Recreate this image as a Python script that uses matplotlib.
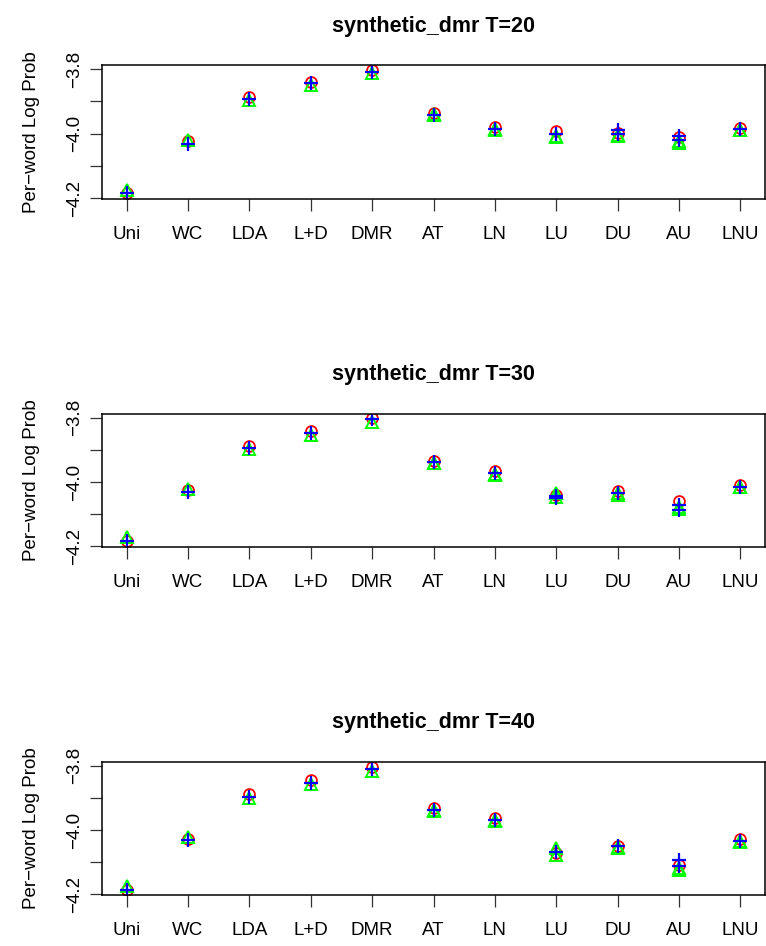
import numpy as np
import matplotlib
matplotlib.use("Agg")
import matplotlib.pyplot as plt

plt.rcParams['font.family'] = ['Liberation Sans', 'DejaVu Sans']

categories = ["Uni", "WC", "LDA", "L+D", "DMR", "AT", "LN", "LU", "DU", "AU", "LNU"]
topics = [20, 30, 40]

# red circles
red_T20 = [-4.183, -4.024, -3.886, -3.839, -3.801, -3.937, -3.980, -3.993, -3.998, -4.010, -3.982]
red_T30 = [-4.183, -4.025, -3.887, -3.841, -3.800, -3.934, -3.965, -4.040, -4.027, -4.058, -4.009]
red_T40 = [-4.187, -4.027, -3.888, -3.843, -3.802, -3.931, -3.961, -4.072, -4.048, -4.109, -4.029]
# green triangles
green_T20 = [-4.174, -4.020, -3.895, -3.849, -3.812, -3.939, -3.986, -4.007, -4.004, -4.024, -3.988]
green_T30 = [-4.171, -4.022, -3.898, -3.854, -3.812, -3.940, -3.976, -4.033, -4.036, -4.077, -4.015]
green_T40 = [-4.174, -4.022, -3.901, -3.857, -3.816, -3.938, -3.969, -4.057, -4.053, -4.119, -4.033]
green2_T20 = [np.nan, np.nan, np.nan, np.nan, np.nan, -3.942, -3.988, -4.009, -4.006, -4.029, -3.990]
green2_T30 = [np.nan, np.nan, np.nan, np.nan, np.nan, -3.942, -3.978, -4.046, -4.040, -4.084, -4.017]
green2_T40 = [np.nan, np.nan, np.nan, np.nan, np.nan, -3.940, -3.972, -4.077, -4.056, -4.124, -4.036]
# blue pluses
blue_T20 = [-4.1845, -4.032, -3.892, -3.843, -3.809, -3.942, -3.985, -4.002, -3.990, -4.007, -3.986]
blue_T30 = [-4.184, -4.032, -3.893, -3.847, -3.805, -3.937, -3.971, -4.044, -4.034, -4.072, -4.015]
blue_T40 = [-4.187, -4.031, -3.896, -3.852, -3.810, -3.936, -3.967, -4.067, -4.050, -4.093, -4.033]
blue2_T20 = [np.nan, np.nan, np.nan, np.nan, np.nan, np.nan, np.nan, np.nan, -4.002, -4.021, np.nan]
blue2_T30 = [np.nan, np.nan, np.nan, np.nan, np.nan, np.nan, np.nan, -4.051, np.nan, -4.088, np.nan]
blue2_T40 = [np.nan, np.nan, np.nan, np.nan, np.nan, np.nan, np.nan, np.nan, np.nan, -4.112, np.nan]

reds = [red_T20, red_T30, red_T40]
greens = [green_T20, green_T30, green_T40]
greens2 = [green2_T20, green2_T30, green2_T40]
blues = [blue_T20, blue_T30, blue_T40]
blues2 = [blue2_T20, blue2_T30, blue2_T40]

W, H = 766, 946
fig = plt.figure(figsize=(W / 100, H / 100), dpi=100)

# axes boxes in pixels: (left, top, right, bottom)
boxes = [(102, 65, 765, 198.7), (102, 413.7, 765, 546.7), (102, 761.7, 765, 895)]

x = np.arange(1, len(categories) + 1)
for i, (l, t, r, b) in enumerate(boxes):
    ax = fig.add_axes([l / W, 1 - b / H, (r - l) / W, (b - t) / H])
    ax.plot(x, reds[i], linestyle='none', marker='o', ms=7.8, mfc='none', mec='#ff0000', mew=1.3)
    ax.plot(x, greens[i], linestyle='none', marker='^', ms=8, mfc='none', mec='#00ff00', mew=1.4)
    ax.plot(x, greens2[i], linestyle='none', marker='^', ms=8, mfc='none', mec='#00ff00', mew=1.4)
    ax.plot(x, blues[i], linestyle='none', marker='+', ms=10, mec='#0000ff', mew=1.6)
    ax.plot(x, blues2[i], linestyle='none', marker='+', ms=10, mec='#0000ff', mew=1.6)
    ax.set_xlim(0.6, 11.4)
    ax.set_ylim(-4.202, -3.787)
    ax.set_xticks(x)
    ax.set_xticklabels(categories, fontsize=13.5)
    ax.set_yticks([-4.2, -4.1, -4.0, -3.9, -3.8])
    ax.set_yticklabels(["\u22124.2", "", "\u22124.0", "", "\u22123.8"], fontsize=13.5,
                       rotation=90, va='center')
    ax.tick_params(axis='x', length=8.5, width=0.9, pad=11, color='#333333')
    ax.tick_params(axis='y', length=8.5, width=0.9, pad=5, color='#333333')
    for s in ax.spines.values():
        s.set_linewidth(1.1)
    ax.set_ylabel("Per\u2212word Log Prob", fontsize=13.5, labelpad=19)
    ax.set_title(f"synthetic_dmr T={topics[i]}", fontsize=15.5, fontweight='bold', pad=24)

fig.savefig("out.png", dpi=100)
